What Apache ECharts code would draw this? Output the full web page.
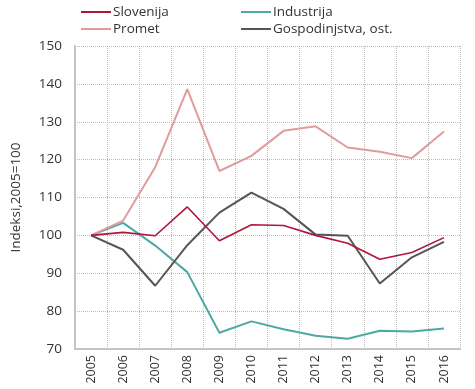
<!DOCTYPE html>
<html><head><meta charset="utf-8">
<script src="https://cdn.jsdelivr.net/npm/echarts@6/dist/echarts.min.js"></script>
<style>html,body{margin:0;padding:0;background:#fff}#c{width:475px;height:389px}</style>
</head><body><div id="c"></div>
<script>
const years = ['2005','2006','2007','2008','2009','2010','2011','2012','2013','2014','2015','2016'];
const slovenija = [100,100.8,99.9,107.5,98.6,102.8,102.6,100,97.9,93.7,95.5,99.4];
const industrija = [100,103.3,97.3,90.3,74.3,77.3,75.2,73.5,72.7,74.8,74.6,75.4];
const promet = [100,103.9,118,138.6,117,121,127.6,128.8,123.2,122.1,120.4,127.4];
const gospodinjstva = [100,96.2,86.7,97.4,106,111.3,107,100.2,99.9,87.3,94.2,98.3];
const yTicks = [70,80,90,100,110,120,130,140,150];

const font = '"Open Sans", "Noto Sans", sans-serif';
const chart = echarts.init(document.getElementById('c'));
const legendCommon = {orient:'vertical', top:0, itemWidth:30, itemHeight:14, itemGap:3, icon:'path://M0,6 L30,6 L30,8 L0,8 Z',
  textStyle:{fontFamily:font, fontSize:13.5, color:'#333', padding:[0,0,0,-3]}};
chart.setOption({
  animation:false,
  legend:[
    Object.assign({left:76, data:['Slovenija','Promet']}, legendCommon),
    Object.assign({left:236, data:['Industrija','Gospodinjstva, ost.']}, legendCommon)
  ],
  grid:{left:75, right:15, top:46, bottom:40},
  xAxis:{type:'category', data:years, boundaryGap:true,
    axisLine:{lineStyle:{color:'#c4c4c4', width:2}}, axisTick:{show:false},
    axisLabel:{rotate:90, fontFamily:font, fontSize:12.5, color:'#333', margin:6},
    splitLine:{show:true, lineStyle:{type:'dotted', color:'#bbb'}}},
  yAxis:{type:'value', min:yTicks[0], max:yTicks[yTicks.length-1], interval:10,
    name:'Indeksi,2005=100', nameLocation:'middle', nameGap:52, nameRotate:90,
    nameTextStyle:{fontFamily:font, fontSize:13.5, color:'#333'},
    axisLine:{show:true, lineStyle:{color:'#c4c4c4', width:2}}, axisTick:{show:false},
    axisLabel:{fontFamily:font, fontSize:13.5, color:'#333', margin:13},
    splitLine:{lineStyle:{type:'dotted', color:'#bbb'}}},
  series:[
    {name:'Slovenija', type:'line', data:slovenija, symbol:'none', color:'#b0153b', lineStyle:{width:1.6}, z:5},
    {name:'Industrija', type:'line', data:industrija, symbol:'none', color:'#4ea9a3', lineStyle:{width:2}},
    {name:'Promet', type:'line', data:promet, symbol:'none', color:'#e09c9c', lineStyle:{width:2}},
    {name:'Gospodinjstva, ost.', type:'line', data:gospodinjstva, symbol:'none', color:'#555555', lineStyle:{width:2}}
  ]
});
</script></body></html>
